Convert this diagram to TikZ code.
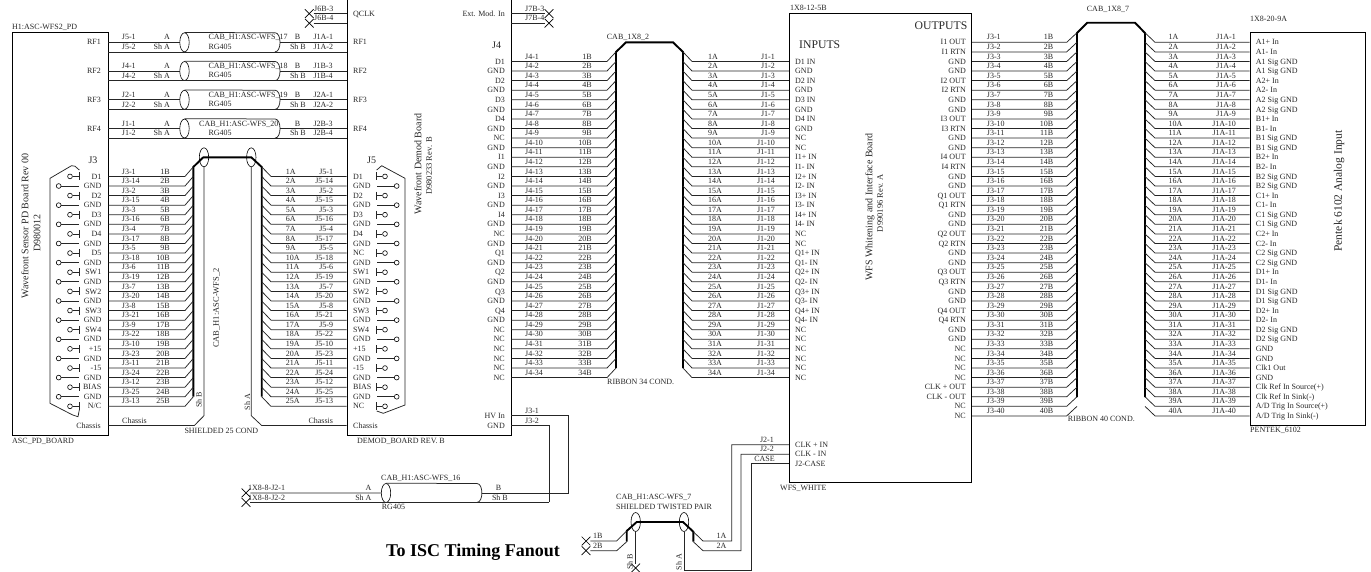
\documentclass[tikz,border=0pt]{standalone}
\usepackage{fontspec}
\setmainfont{Liberation Serif}
\usepackage{tikz}
\usetikzlibrary{positioning,shapes.geometric,shapes.misc}
\tikzset{every node/.append style={inner sep=0pt,font=\fontsize{8}{9}\selectfont}}
\tikzset{wire/.style={line width=0.75pt,black!85}}
\tikzset{bus/.style={line width=1.9pt,black}}
\tikzset{board/.style={draw,line width=0.85pt,rectangle}}
\tikzset{shield/.style={draw,ellipse,line width=0.6pt,minimum width=9.4pt,minimum height=19pt}}
\tikzset{nopin/.style={draw,cross out,line width=0.7pt,minimum width=8pt,minimum height=8pt}}
\tikzset{lbl/.style={anchor=west,text height=5.3pt,text depth=0pt,black!85}}
\tikzset{lblr/.style={anchor=east,text height=5.3pt,text depth=0pt,black!85}}
\tikzset{title/.style={rotate=90,font=\fontsize{10}{12}\selectfont,black!85}}
\tikzset{subtitle/.style={rotate=90,font=\fontsize{8.5}{10}\selectfont,black!85}}
\tikzset{pinhole/.style={draw,circle,line width=0.6pt,fill=white,minimum size=4.8pt}}
\begin{document}
\begin{tikzpicture}[x=1pt,y=-1pt]
    \useasboundingbox (0,0) rectangle (1371,571);

    \node[board,minimum width=96pt,minimum height=402.3pt] (asc) at (60,233.85) {};
    \node[board,minimum width=164pt,minimum height=445pt] (demod) at (429,212.5) {};
    \node[board,minimum width=182.4pt,minimum height=469.4pt] (wfs) at (880.5,248) {};
    \node[board,minimum width=115.7pt,minimum height=392.3pt] (pentek) at (1307.85,228.85) {};

    \node[lbl] (ascName) at (12,27) {H1:ASC-WFS2\_PD};
    \node[lbl] (ascBoard) at (12,440.5) {ASC\_PD\_BOARD};
    \node[lbl] (demodBoard) at (357,440.5) {DEMOD\_BOARD REV. B};
    \node[lbl] (wfsTop) at (790,8) {1X8-12-5B};
    \node[lbl] (wfsBoard) at (780,488) {WFS\_WHITE};
    \node[lbl] (pentekTop) at (1250,18.7) {1X8-20-9A};
    \node[lbl] (pentekBoard) at (1250,429.5) {PENTEK\_6102};

    \node[title] (ascTitle) at (25,226) {Wavefront Sensor PD Board Rev 00};
    \node[title] (ascNum) at (37,233) {D980012};
    \node[title] (demodTitle) at (418,164) {Wavefront Demod Board};
    \node[subtitle] (demodNum) at (429,166) {D980233 Rev. B};
    \node[title] (wfsTitle) at (870,207) {WFS Whitening and Interface Board};
    \node[subtitle] (wfsNum) at (880,203) {D990196 Rev. A};
    \node[title,font=\fontsize{11.5}{13}\selectfont] (pentekTitle) at (1339,191) {Pentek 6102 Analog Input};
    \node[subtitle] (cabTwo) at (216.7,308) {CAB\_H1:ASC-WFS\_2};

    \node[lbl,font=\fontsize{10}{12}\selectfont] (jThree) at (88.3,160.7) {J3};
    \node[lbl,font=\fontsize{10}{12}\selectfont] (jFive) at (367,160.7) {J5};
    \node[lbl,font=\fontsize{10}{12}\selectfont] (jFour) at (492,46) {J4};
    \node[lbl,font=\fontsize{11.7}{13}\selectfont,text height=7.7pt] (inputs) at (799,45) {INPUTS};
    \node[lblr,font=\fontsize{11.7}{13}\selectfont,text height=7.7pt] (outputs) at (967.5,26) {OUTPUTS};

    \foreach \k/\pa/\cab/\pb/\pc [count=\c] in {0/J5/17/J1A-1/J1A-2,3/J4/18/J1B-3/J1B-4,6/J2/19/J2A-1/J2A-2,9/J1/20/J2B-3/J2B-4} {
        \pgfmathsetmacro\y{42.3+9.58*\k}
        \pgfmathsetmacro\yb{\y+9.58}
        \node[shield] (rfShield\c) at (184.5,\y) {};
        \coordinate (rfEnd\c) at (280,\y);
        \draw[wire] (asc.east |- 0,\y) -- (rfShield\c.west);
        \draw[wire] (asc.east |- 0,\yb) -- (demod.west |- 0,\yb);
        \draw[wire] (rfEnd\c) -- (demod.west |- 0,\y);
        \draw[wire] (rfShield\c.north) -- (275,\y-9.58) .. controls (281.7,\y-9.58) and (281.7,\yb) .. (275,\yb);
        \node[lblr] (rfOut\c) at (101,\y) {RF\c};
        \node[lbl] (rfIn\c) at (353,\y) {RF\c};
        \node[lbl] (rfPinA\c) at (121.7,\y-5) {\pa-1};
        \node[lbl] (rfPinB\c) at (121.7,\yb-5) {\pa-2};
        \node[lblr] (rfA\c) at (170,\y-5) {A};
        \node[lblr] (rfShA\c) at (170,\yb-5) {Sh A};
        \node[lblr] (rfB\c) at (300.5,\y-5) {B};
        \node[lblr] (rfShB\c) at (306,\yb-5) {Sh B};
        \node[lbl] (rfJa\c) at (313.3,\y-5) {\pb};
        \node[lbl] (rfJb\c) at (313.3,\yb-5) {\pc};
        \node[lbl] (rfType\c) at (208.3,\yb-5.3) {RG405};
        \ifnum\c=4
            \node[lbl] (rfCab\c) at (199,\y-5) {CAB\_H1:ASC-WFS\_\cab};
        \else
            \node[lbl] (rfCab\c) at (208.3,\y-5) {CAB\_H1:ASC-WFS\_\cab};
        \fi
    }

    \node[nopin] (xQa) at (309.3,13.6) {};
    \node[nopin] (xQb) at (309.3,23.2) {};
    \draw[wire] (xQa) -- (demod.west |- xQa);
    \draw[wire] (xQb) -- (demod.west |- xQb);
    \node[lbl] (qa) at (314,8.7) {J6B-3};
    \node[lbl] (qb) at (314,18.3) {J6B-4};
    \node[lbl] (qclk) at (353,13.6) {QCLK};
    \node[nopin] (xEa) at (549,13.6) {};
    \node[nopin] (xEb) at (549,23.2) {};
    \draw[wire] (demod.east |- xEa) -- (xEa);
    \draw[wire] (demod.east |- xEb) -- (xEb);
    \node[lblr] (extMod) at (505,13.6) {Ext. Mod. In};
    \node[lbl] (ea) at (525,8.7) {J7B-3};
    \node[lbl] (eb) at (525,18.3) {J7B-4};

    \draw[bus] (193.3,396.6) -- (193.3,167) -- (203.3,157.3) -- (251.3,157.3) -- (261.7,167) -- (261.7,396.6);
    \node[shield] (shJb) at (204,157.3) {};
    \node[shield] (shJa) at (251.3,157.3) {};
    \foreach \p [count=\i, evaluate=\i as \y using 42.3+9.58*(\i+13)] in {1,14,2,15,3,16,4,17,5,18,6,19,7,20,8,21,9,22,10,23,11,24,12,25,13} {
        \coordinate (busL\i) at (193.3,\y-9.58);
        \coordinate (busR\i) at (261.7,\y-9.58);
        \draw[wire] (asc.east |- 0,\y) -- (185,\y) -- (busL\i);
        \draw[wire] (demod.west |- 0,\y) -- (271,\y) -- (busR\i);
        \node[lbl] (jtn\i) at (121.7,\y-5) {J3-\p};
        \node[lblr] (jtb\i) at (170,\y-5) {\i B};
        \node[lbl] (jfa\i) at (285.7,\y-5) {\i A};
        \node[lblr] (jfn\i) at (333.3,\y-5) {J5-\p};
    }
    \draw[wire] (shJb.south) -- (204,415.7) -- (194.3,425.5) -- (asc.east |- 0,425.5);
    \draw[wire] (shJa.south) -- (251.3,415.7) -- (261.7,425.5) -- (demod.west |- 0,425.5);
    \node[lbl] (chassisA) at (122,421) {Chassis};
    \node[lbl] (chassisB) at (308.3,421) {Chassis};
    \node[lblr] (chassisC) at (101,425.5) {Chassis};
    \node[lbl] (chassisD) at (353,425.5) {Chassis};
    \node[lbl] (cond) at (184.3,430.5) {SHIELDED 25 COND};
    \node[rotate=90,black!85] (shB) at (199,400) {Sh B};
    \node[rotate=90,black!85] (shA) at (247.3,402.3) {Sh A};

    \draw[wire] (79.3,170) -- (75,166.2) -- (71.5,165.7) -- (50,178.3) -- (50,403.3) -- (72.7,415) -- (78,416.7) -- (79.3,410);
    \draw[wire] (376.7,170) -- (381.7,165.7) -- (405,178.3) -- (405,405) -- (383.3,413.3) -- (376.7,411);
    \foreach \lab [count=\i, evaluate=\i as \y using 42.3+9.58*(\i+13)] in {D1,GND,D2,GND,D3,GND,D4,GND,D5,GND,SW1,GND,SW2,GND,SW3,GND,SW4,GND,+15,GND,-15,GND,BIAS,GND,N/C} {
        \node[lblr] (ascPin\i) at (101.5,\y) {\lab};
    }
    \foreach \lab [count=\i, evaluate=\i as \y using 42.3+9.58*(\i+13)] in {D1,GND,D2,GND,D3,GND,D4,GND,NC,GND,SW1,GND,SW2,GND,SW3,GND,SW4,GND,+15,GND,-15,GND,BIAS,GND,NC} {
        \node[lbl] (demodPin\i) at (353,\y) {\lab};
    }
    \foreach \i in {1,3,...,25} {
        \pgfmathsetmacro\y{42.3+9.58*(\i+13)}
        \node[pinhole] (holeL\i) at (70,\y) {};
        \node[pinhole] (holeR\i) at (385,\y) {};
        \draw[wire] (holeL\i) -- (79.3,\y) (79.3,\y-4) -- (79.3,\y+4);
        \draw[wire] (holeR\i) -- (376.7,\y) (376.7,\y-4) -- (376.7,\y+4);
    }
    \foreach \i in {2,4,...,24} {
        \pgfmathsetmacro\y{42.3+9.58*(\i+13)}
        \node[pinhole] (holeL\i) at (58.7,\y) {};
        \node[pinhole] (holeR\i) at (396.7,\y) {};
        \draw[wire] (holeL\i) -- (79.3,\y);
        \draw[wire] (holeR\i) -- (376.7,\y);
    }

    \draw[bus] (616,368) -- (616,52) -- (626,42.3) -- (673,42.3) -- (683,52) -- (683,368);
    \node[lbl] (cabRibA) at (606.7,37.3) {CAB\_1X8\_2};
    \node[lbl] (ribA) at (607,381.7) {RIBBON 34 COND.};
    \foreach \i in {1,...,34} {
        \pgfmathsetmacro\y{42.3+9.58*(\i+1)}
        \coordinate (busAl\i) at (616,\y-9.58);
        \coordinate (busAr\i) at (683,\y-9.58);
        \draw[wire] (demod.east |- 0,\y) -- (607,\y) -- (busAl\i);
        \draw[wire] (wfs.west |- 0,\y) -- (692,\y) -- (busAr\i);
        \node[lbl] (rjf\i) at (525,\y-5) {J4-\i};
        \node[lblr] (rbn\i) at (592,\y-5) {\i B};
        \node[lbl] (ran\i) at (708,\y-5) {\i A};
        \node[lblr] (rjo\i) at (775,\y-5) {J1-\i};
    }
    \foreach \lab [count=\i, evaluate=\i as \y using 42.3+9.58*(\i+1)] in {D1,GND,D2,GND,D3,GND,D4,GND,NC,GND,I1,GND,I2,GND,I3,GND,I4,GND,NC,GND,Q1,GND,Q2,GND,Q3,GND,Q4,GND,NC,NC,NC,NC,NC,NC} {
        \node[lblr] (jfPin\i) at (505,\y) {\lab};
    }
    \foreach \lab [count=\i, evaluate=\i as \y using 42.3+9.58*(\i+1)] in {D1 IN,GND,D2 IN,GND,D3 IN,GND,D4 IN,GND,NC,NC,I1+ IN,I1- IN,I2+ IN,I2- IN,I3+ IN,I3- IN,I4+ IN,I4- IN,NC,NC,Q1+ IN,Q1- IN,Q2+ IN,Q2- IN,Q3+ IN,Q3- IN,Q4+ IN,Q4- IN,NC,NC,NC,NC,NC,NC} {
        \node[lbl] (inPin\i) at (795,\y) {\lab};
    }

    \draw[bus] (1077,397) -- (1077,33) -- (1087.3,22.7) -- (1135,22.7) -- (1145,33) -- (1145,397);
    \node[lbl] (cabRibB) at (1086.7,9) {CAB\_1X8\_7};
    \node[lbl] (ribB) at (1067.7,419) {RIBBON 40 COND.};
    \foreach \i in {1,...,40} {
        \pgfmathsetmacro\y{42.3+9.58*(\i-1)}
        \coordinate (busBl\i) at (1077,\y-9.58);
        \coordinate (busBr\i) at (1145,\y-9.58);
        \draw[wire] (wfs.east |- 0,\y) -- (1066.7,\y) -- (busBl\i);
        \draw[wire] (pentek.west |- 0,\y) -- (1155,\y) -- (busBr\i);
        \node[lbl] (sjt\i) at (986.7,\y-5) {J3-\i};
        \node[lblr] (sbn\i) at (1053.3,\y-5) {\i B};
        \node[lbl] (san\i) at (1168.3,\y-5) {\i A};
        \node[lblr] (sjo\i) at (1236,\y-5) {J1A-\i};
    }
    \foreach \lab [count=\i, evaluate=\i as \y using 42.3+9.58*(\i-1)] in {I1 OUT,I1 RTN,GND,GND,I2 OUT,I2 RTN,GND,GND,I3 OUT,I3 RTN,GND,GND,I4 OUT,I4 RTN,GND,GND,Q1 OUT,Q1 RTN,GND,GND,Q2 OUT,Q2 RTN,GND,GND,Q3 OUT,Q3 RTN,GND,GND,Q4 OUT,Q4 RTN,GND,GND,NC,NC,NC,NC,CLK + OUT,CLK - OUT,NC,NC} {
        \node[lblr] (outPin\i) at (966,\y) {\lab};
    }
    \foreach \lab [count=\i, evaluate=\i as \y using 42.3+9.58*(\i-1)] in {A1+ In,A1- In,A1 Sig GND,A1 Sig GND,A2+ In,A2- In,A2 Sig GND,A2 Sig GND,B1+ In,B1- In,B1 Sig GND,B1 Sig GND,B2+ In,B2- In,B2 Sig GND,B2 Sig GND,C1+ In,C1- In,C1 Sig GND,C1 Sig GND,C2+ In,C2- In,C2 Sig GND,C2 Sig GND,D1+ In,D1- In,D1 Sig GND,D1 Sig GND,D2+ In,D2- In,D2 Sig GND,D2 Sig GND,GND,GND,Clk1 Out,GND,Clk Ref In Source(+),Clk Ref In Sink(-),{A/D Trig In Source(+)},{A/D Trig In Sink(-)}} {
        \node[lbl] (penPin\i) at (1255.7,\y) {\lab};
    }

    \draw[wire] (demod.east |- 0,415.7) -- (568.7,415.7) -- (568.7,492.9);
    \draw[wire] (demod.east |- 0,425.5) -- (549.3,425.5) -- (549.3,502.4);
    \node[lblr] (hvIn) at (505,415.7) {HV In};
    \node[lblr] (hvGnd) at (505,425.5) {GND};
    \node[lbl] (hvA) at (525,411) {J3-1};
    \node[lbl] (hvB) at (525,420.7) {J3-2};

    \node[shield] (shSix) at (386,493) {};
    \node[nopin] (xSixA) at (246,492.9) {};
    \node[nopin] (xSixB) at (246,502.4) {};
    \coordinate (sixEnd) at (481.7,492.9);
    \draw[wire] (xSixA) -- (shSix.west);
    \draw[wire] (xSixB) -- (549.3,502.4);
    \draw[wire] (sixEnd) -- (568.7,492.9);
    \draw[wire] (shSix.north) -- (477,483.5) .. controls (483.5,483.5) and (483.5,502.4) .. (477,502.4);
    \node[lbl] (sixA) at (248,488) {1X8-8-J2-1};
    \node[lbl] (sixB) at (248,497.5) {1X8-8-J2-2};
    \node[lblr] (sixC) at (371.7,488) {A};
    \node[lblr] (sixD) at (371.7,497.5) {Sh A};
    \node[lblr] (sixE) at (501.5,488) {B};
    \node[lblr] (sixF) at (508,497.5) {Sh B};
    \node[lbl] (sixType) at (381.7,507) {RG405};
    \node[lbl] (sixCab) at (381,478) {CAB\_H1:ASC-WFS\_16};
    \node[lbl,font=\bfseries\fontsize{18}{20}\selectfont,text height=12pt,black] (fanout) at (386,550) {To ISC Timing Fanout};

    \draw[bus] (626.7,541.7) -- (626.7,531) -- (636.7,522) -- (683,522) -- (693.3,531.7) -- (693.3,541.7);
    \node[shield] (shSevB) at (635.7,522) {};
    \node[shield] (shSevA) at (684,522) {};
    \node[nopin] (xSevA) at (586,541) {};
    \node[nopin] (xSevB) at (586,550.7) {};
    \node[nopin] (xSevC) at (635.7,568) {};
    \coordinate (sevL) at (626.7,531);
    \coordinate (sevM) at (626.7,541.7);
    \coordinate (sevR) at (693.3,531.7);
    \coordinate (sevS) at (693.3,541.7);
    \draw[wire] (xSevA) -- (616.7,541) -- (sevL);
    \draw[wire] (xSevB) -- (616.7,550.7) -- (sevM);
    \draw[wire] (shSevB.south) -- (xSevC);
    \draw[wire] (sevR) -- (703,541) -- (731.7,541) -- (731.7,444.7) -- (wfs.west |- 0,444.7);
    \draw[wire] (sevS) -- (703,550.7) -- (741,550.7) -- (741,454.3) -- (wfs.west |- 0,454.3);
    \draw[wire] (shSevA.south) -- (684,570) -- (751,570) -- (751,463.8) -- (wfs.west |- 0,463.8);
    \node[lbl] (sevCab) at (616,497) {CAB\_H1:ASC-WFS\_7};
    \node[lbl] (sevType) at (616,507) {SHIELDED TWISTED PAIR};
    \node[lbl] (sevB) at (593,536) {1B};
    \node[lbl] (sevC) at (593,545.5) {2B};
    \node[lblr] (sevD) at (726.7,536) {1A};
    \node[lblr] (sevE) at (726.7,545.5) {2A};
    \node[lblr] (jtA) at (774,440) {J2-1};
    \node[lblr] (jtB) at (774,449.3) {J2-2};
    \node[lblr] (jtC) at (775,459) {CASE};
    \node[lbl] (clkA) at (795,445) {CLK + IN};
    \node[lbl] (clkB) at (795,454.3) {CLK - IN};
    \node[lbl] (clkC) at (795,464) {J2-CASE};
    \node[rotate=90,black!85] (sevShB) at (630,562) {Sh B};
    \node[rotate=90,black!85] (sevShA) at (679,562) {Sh A};
\end{tikzpicture}
\end{document}
